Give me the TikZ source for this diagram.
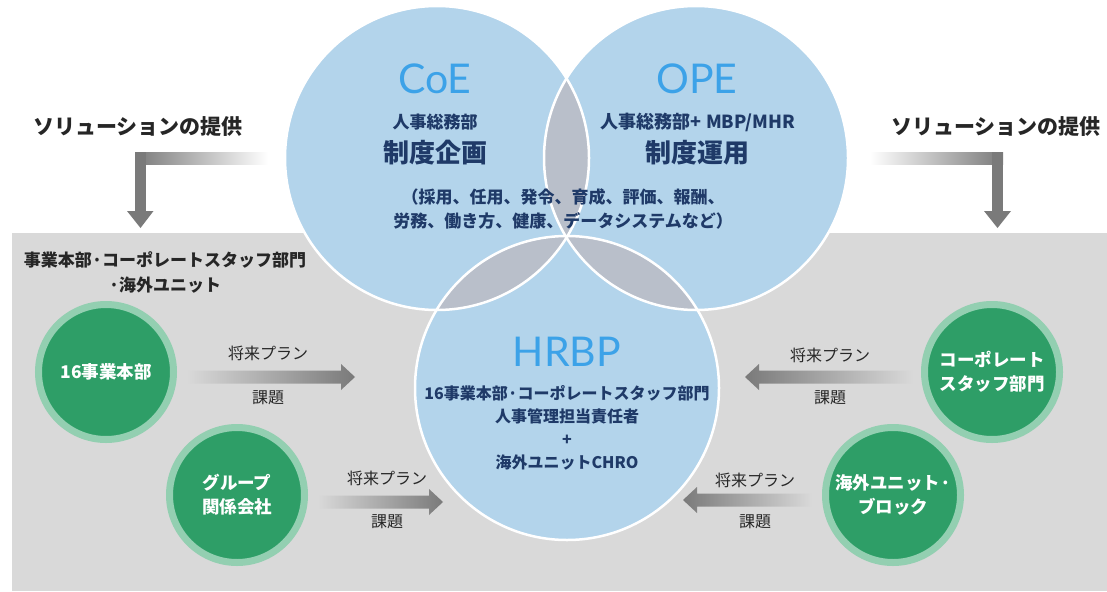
\documentclass[tikz,border=0pt]{standalone}
\usepackage{fontspec}
\setmainfont{Noto Sans CJK JP}
\newfontfamily\latofont{Lato}
\definecolor{cblue}{HTML}{B3D4EB}
\definecolor{lgray}{HTML}{B9BFCA}
\definecolor{tblue}{HTML}{3CA2E8}
\definecolor{navy}{HTML}{1F3A68}
\definecolor{bgray}{HTML}{D9D9D9}
\definecolor{agray}{HTML}{7A7A7A}
\definecolor{gfill}{HTML}{2E9E67}
\definecolor{gring}{HTML}{93CFB1}
\definecolor{dtext}{HTML}{262626}
\newcommand\fsz[2]{\fontsize{#1}{#2}\selectfont}
\tikzset{
  titletext/.style={font=\latofont\fsz{41}{44}, text=tblue, inner sep=0},
  navytext/.style={font=\bfseries\fsz{17}{23.5}, text=navy, inner sep=0, align=center},
  bignavy/.style={font=\bfseries\fsz{26}{28}, text=navy, inner sep=0},
  greennode/.style={circle, minimum size=135, inner sep=0, fill=gfill, draw=gring, line width=7,
     text=white, font=\bfseries\fsz{17.5}{24}, align=center},
  flowlabel/.style={font=\fsz{16}{18}, text=dtext, inner sep=0},
  soltext/.style={font=\bfseries\fsz{21}{24}, text=dtext, inner sep=0},
  outline/.style={draw=white, line width=2.5},
}
\begin{document}
\begin{tikzpicture}[x=1pt,y=-1pt]
\useasboundingbox (0,0) rectangle (1107,591);
\fill[white] (0,0) rectangle (1107,591);
\fill[bgray] (12,233) rectangle (1107,591);

% solution arrows
\path[left color=agray, right color=white] (135,152) rectangle (268,164);
\fill[agray] (135,152) rectangle (146,212);
\fill[agray] (127,211) -- (153.5,211) -- (140.5,228) -- cycle;
\path[left color=white, right color=agray] (870,152) rectangle (1003,164);
\fill[agray] (992,152) rectangle (1003,212);
\fill[agray] (984,211) -- (1011,211) -- (997.5,228) -- cycle;
\node[soltext] (sol1) at (138,127) {ソリューションの提供};
\node[soltext] (sol2) at (996,127) {ソリューションの提供};

% venn circles
\coordinate (cC) at (437,158);
\coordinate (cO) at (696,158);
\coordinate (cH) at (567,388);
\fill[cblue] (cC) circle[radius=152];
\fill[cblue] (cO) circle[radius=152];
\fill[cblue] (cH) circle[radius=152];
\begin{scope}
  \clip (cC) circle[radius=152];
  \fill[lgray] (cO) circle[radius=152];
  \fill[lgray] (cH) circle[radius=152];
\end{scope}
\begin{scope}
  \clip (cO) circle[radius=152];
  \fill[lgray] (cH) circle[radius=152];
\end{scope}
\draw[outline] (cC) circle[radius=152];
\draw[outline] (cO) circle[radius=152];
\draw[outline] (cH) circle[radius=152];

% texts in circles
\node[titletext] (tcoe) at (435,79) {CoE};
\node[navytext] (scoe) at (435,122) {人事総務部};
\node[bignavy] (bcoe) at (435,153) {制度企画};
\node[titletext] (tope) at (697,79) {OPE};
\node[navytext, font=\bfseries\fsz{18}{23.5}] (sope) at (698,122) {人事総務部+\ MBP/MHR};
\node[bignavy] (bope) at (697,153) {制度運用};
\node[navytext] (paren) at (563,209) {（採用、任用、発令、育成、評価、報酬、\\労務、働き方、健康、データシステムなど）};
\node[titletext] (thr) at (567,352) {HRBP};
\node[navytext, font=\bfseries\fsz{16}{23}] (shr) at (567,428) {16事業本部·コーポレートスタッフ部門\\人事管理担当責任者\\+\\海外ユニットCHRO};

% gray area label
\node[font=\bfseries\fsz{17}{25}, text=dtext, align=center, inner sep=0] (area) at (165,272) {事業本部·コーポレートスタッフ部門\\·海外ユニット};

% green units
\node[greennode] (g1) at (106,372) {16事業本部};
\node[greennode] (g2) at (237,495) {グループ\\関係会社};
\node[greennode] (g3) at (992,372) {コーポレート\\スタッフ部門};
\node[greennode] (g4) at (893,495) {海外ユニット·\\ブロック};

% flow arrows
\path[left color=bgray, right color=agray] (187,370.5) -- (341,370.5) -- (341,364) -- (355,377) -- (341,390) -- (341,383.5) -- (187,383.5) -- cycle;
\path[left color=bgray, right color=agray] (318,495.5) -- (429,495.5) -- (429,489) -- (443,502) -- (429,515) -- (429,508.5) -- (318,508.5) -- cycle;
\path[left color=agray, right color=bgray] (913,370.5) -- (759,370.5) -- (759,364) -- (745,377) -- (759,390) -- (759,383.5) -- (913,383.5) -- cycle;
\path[left color=agray, right color=bgray] (812,493.5) -- (697,493.5) -- (697,487) -- (683,500) -- (697,513) -- (697,506.5) -- (812,506.5) -- cycle;

\node[flowlabel] (p1) at (268,353) {将来プラン};
\node[flowlabel] (k1) at (268,398) {課題};
\node[flowlabel] (p2) at (387,478) {将来プラン};
\node[flowlabel] (k2) at (387,522) {課題};
\node[flowlabel] (p3) at (830,355) {将来プラン};
\node[flowlabel] (k3) at (830,398) {課題};
\node[flowlabel] (p4) at (755,480) {将来プラン};
\node[flowlabel] (k4) at (755,522) {課題};
\end{tikzpicture}
\end{document}
